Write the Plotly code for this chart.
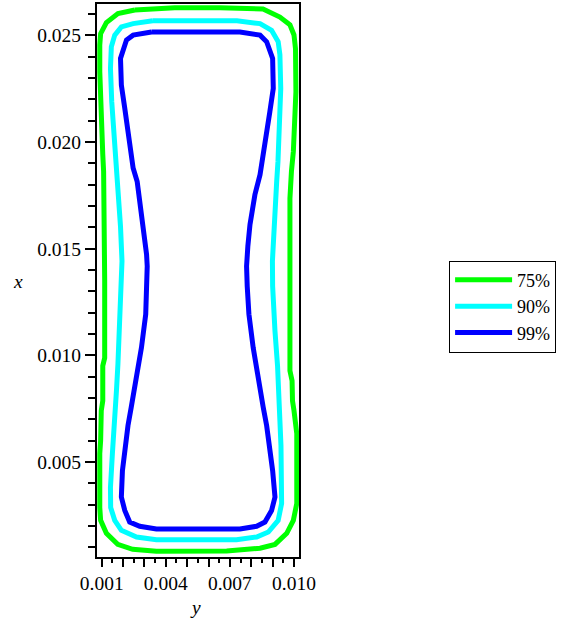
import plotly.graph_objects as go

# Contour levels
levels = ["75%", "90%", "99%"]
colors = ["#00ff00", "#00ffff", "#0000ff"]

# 75% contour (horizontal = y, vertical = x)
c75_y = [0.00255, 0.00442, 0.00653, 0.00855, 0.00934, 0.00981, 0.01000, 0.01007, 0.01009, 0.01005,
         0.00997, 0.00988, 0.00981, 0.00981, 0.00981, 0.00991, 0.00993, 0.01000, 0.01005, 0.01013,
         0.01013, 0.00997, 0.00966, 0.00911, 0.00841, 0.00685, 0.00356, 0.00245, 0.00175, 0.00122,
         0.00095, 0.00091, 0.00091, 0.00095, 0.00098, 0.00105, 0.00105, 0.00114, 0.00114, 0.00114,
         0.00109, 0.00105, 0.00100, 0.00095, 0.00091, 0.00091, 0.00095, 0.00122, 0.00176, 0.00255]
c75_x = [0.02619, 0.02629, 0.02629, 0.02624, 0.02586, 0.02549, 0.02502, 0.02437, 0.02236, 0.02096,
         0.01956, 0.01862, 0.01736, 0.01348, 0.00928, 0.00881, 0.00787, 0.00741, 0.00694, 0.00633,
         0.00306, 0.00227, 0.00166, 0.00114, 0.00096, 0.00083, 0.00082, 0.00091, 0.00114, 0.00166,
         0.00227, 0.00287, 0.00540, 0.00600, 0.00741, 0.00787, 0.00951, 0.00988, 0.01348, 0.01783,
         0.01862, 0.01942, 0.02072, 0.02189, 0.02329, 0.02454, 0.02508, 0.02560, 0.02602, 0.02619]

# 90% contour
c90_y = [0.00339, 0.00733, 0.00841, 0.00895, 0.00926, 0.00934, 0.00938, 0.00934, 0.00930, 0.00925,
         0.00919, 0.00911, 0.00903, 0.00899, 0.00900, 0.00903, 0.00911, 0.00923, 0.00930, 0.00934,
         0.00939, 0.00942, 0.00942, 0.00926, 0.00880, 0.00825, 0.00731, 0.00356, 0.00263, 0.00192,
         0.00161, 0.00142, 0.00141, 0.00150, 0.00161, 0.00169, 0.00176, 0.00182, 0.00188, 0.00195,
         0.00195, 0.00188, 0.00180, 0.00168, 0.00159, 0.00152, 0.00147, 0.00141, 0.00145, 0.00161,
         0.00192, 0.00247, 0.00339]
c90_x = [0.02568, 0.02568, 0.02555, 0.02524, 0.02470, 0.02409, 0.02251, 0.02111, 0.02002, 0.01909,
         0.01815, 0.01689, 0.01535, 0.01442, 0.01325, 0.01255, 0.01114, 0.00951, 0.00834, 0.00694,
         0.00577, 0.00460, 0.00306, 0.00227, 0.00172, 0.00149, 0.00136, 0.00136, 0.00149, 0.00180,
         0.00227, 0.00287, 0.00381, 0.00540, 0.00671, 0.00834, 0.00960, 0.01082, 0.01222, 0.01325,
         0.01442, 0.01605, 0.01722, 0.01862, 0.01979, 0.02096, 0.02189, 0.02345, 0.02446, 0.02501,
         0.02540, 0.02555, 0.02568]

# 99% contour
c99_y = [0.00333, 0.00747, 0.00841, 0.00872, 0.00900, 0.00903, 0.00887, 0.00875, 0.00864, 0.00841,
         0.00817, 0.00794, 0.00784, 0.00778, 0.00781, 0.00789, 0.00809, 0.00833, 0.00856, 0.00872,
         0.00887, 0.00900, 0.00911, 0.00895, 0.00864, 0.00825, 0.00747, 0.00356, 0.00278, 0.00231,
         0.00208, 0.00192, 0.00197, 0.00208, 0.00223, 0.00238, 0.00255, 0.00270, 0.00286, 0.00306,
         0.00312, 0.00313, 0.00310, 0.00298, 0.00286, 0.00266, 0.00247, 0.00228, 0.00217, 0.00208,
         0.00192, 0.00188, 0.00216, 0.00247, 0.00333]
c99_x = [0.02516, 0.02516, 0.02501, 0.02470, 0.02392, 0.02251, 0.02143, 0.02064, 0.02002, 0.01847,
         0.01753, 0.01613, 0.01512, 0.01418, 0.01325, 0.01193, 0.01036, 0.00881, 0.00756, 0.00671,
         0.00569, 0.00460, 0.00336, 0.00273, 0.00219, 0.00199, 0.00186, 0.00186, 0.00199, 0.00219,
         0.00273, 0.00336, 0.00460, 0.00569, 0.00671, 0.00756, 0.00850, 0.00928, 0.01036, 0.01193,
         0.01325, 0.01418, 0.01473, 0.01558, 0.01660, 0.01815, 0.01878, 0.02002, 0.02064, 0.02158,
         0.02267, 0.02392, 0.02478, 0.02501, 0.02516]

# Axis ticks
xt_vals = [0.001, 0.002, 0.003, 0.004, 0.005, 0.006, 0.007, 0.008, 0.009, 0.010]
xt_text = ["0.001", "", "", "0.004", "", "", "0.007", "", "", "0.010"]
yt_vals = [0.005, 0.010, 0.015, 0.020, 0.025]
yt_text = ["0.005", "0.010", "0.015", "0.020", "0.025"]

FONT = "Liberation Serif, Times New Roman, serif"

fig = go.Figure()
for name, col, ys, xs in zip(levels, colors, [c75_y, c90_y, c99_y], [c75_x, c90_x, c99_x]):
    fig.add_trace(go.Scatter(x=ys, y=xs, mode="lines", name=name,
                             line=dict(color=col, width=5)))

fig.update_layout(
    width=561, height=624,
    margin=dict(l=97, r=262, t=2, b=67),
    paper_bgcolor="white", plot_bgcolor="white",
    font=dict(family=FONT, size=19.5, color="black"),
    showlegend=True,
    legend=dict(x=1.743, y=0.536, xanchor="left", yanchor="top",
                bordercolor="black", borderwidth=1, bgcolor="white",
                font=dict(family=FONT, size=18, color="black"),
                itemwidth=57, tracegroupgap=0),
    annotations=[
        dict(text="<i>y</i>", x=0.49, y=-0.092, xref="paper", yref="paper",
             showarrow=False, font=dict(family=FONT, size=19.5), xanchor="center", yanchor="middle"),
        dict(text="<i>x</i>", x=-0.391, y=0.499, xref="paper", yref="paper",
             showarrow=False, font=dict(family=FONT, size=19.5), xanchor="center", yanchor="middle"),
    ],
)
fig.update_xaxes(range=[0.00078, 0.010234], tickmode="array", tickvals=xt_vals, ticktext=xt_text,
                 ticks="outside", ticklen=8, tickwidth=2, tickcolor="black",
                 showline=True, linewidth=2, linecolor="black", mirror=True,
                 showgrid=False, zeroline=False,
                 minor=dict(tickmode="linear", tick0=0.0005, dtick=0.001, ticks="outside",
                            ticklen=4, tickwidth=2, tickcolor="black", showgrid=False))
fig.update_yaxes(range=[0.00055, 0.02647], tickmode="array", tickvals=yt_vals, ticktext=yt_text,
                 ticks="outside", ticklen=10, tickwidth=2, tickcolor="black",
                 showline=True, linewidth=2, linecolor="black", mirror=True,
                 showgrid=False, zeroline=False,
                 minor=dict(tickmode="linear", tick0=0, dtick=0.001, ticks="outside",
                            ticklen=7, tickwidth=2, tickcolor="black", showgrid=False))

fig.write_html("out.html")
